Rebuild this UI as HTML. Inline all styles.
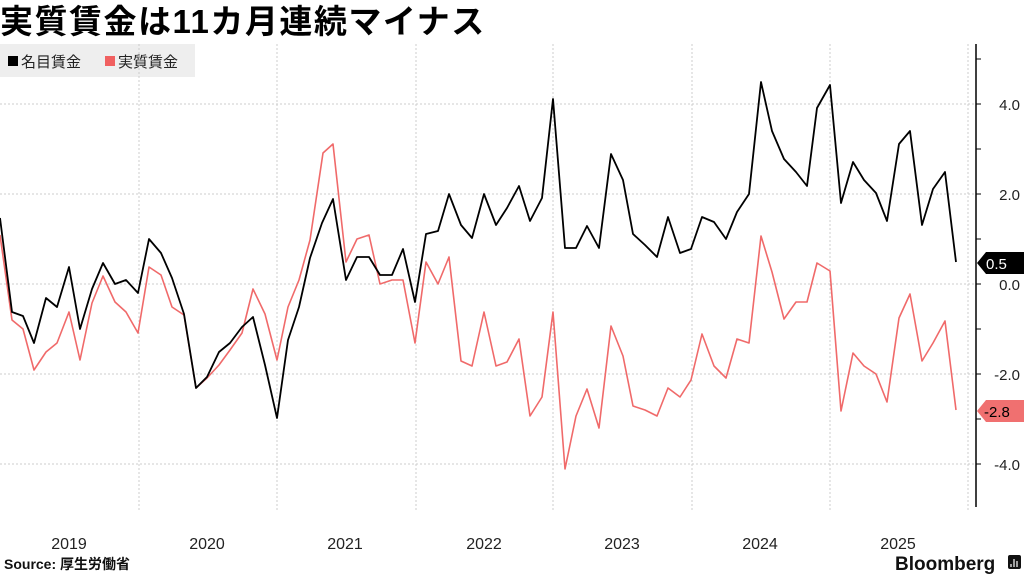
<!DOCTYPE html>
<html><head><meta charset="utf-8"><style>
body{margin:0;background:#fff;width:1024px;height:576px;overflow:hidden}
svg{display:block}
</style></head><body>
<svg width="1024" height="576" xmlns="http://www.w3.org/2000/svg" font-family="'Liberation Sans','Noto Sans CJK JP',sans-serif">
<text x="0" y="33" font-size="33" font-weight="bold" letter-spacing="1.5" fill="#000">実質賃金は11カ月連続マイナス</text>
<rect x="0" y="44" width="195" height="33" fill="#eee"/>
<rect x="8" y="56" width="10" height="10" fill="#000"/>
<text x="21" y="67" font-size="15" fill="#222">名目賃金</text>
<rect x="105" y="56" width="10" height="10" fill="#f06060"/>
<text x="118" y="67" font-size="15" fill="#222">実質賃金</text>
<g stroke="#ccc" stroke-width="1" stroke-dasharray="2,2">
<line x1="0" y1="104" x2="975" y2="104"/><line x1="0" y1="194" x2="975" y2="194"/><line x1="0" y1="284" x2="975" y2="284"/><line x1="0" y1="374" x2="975" y2="374"/><line x1="0" y1="464" x2="975" y2="464"/>
<line x1="139" y1="44" x2="139" y2="510"/><line x1="277" y1="44" x2="277" y2="510"/><line x1="416" y1="44" x2="416" y2="510"/><line x1="553" y1="44" x2="553" y2="510"/><line x1="692" y1="44" x2="692" y2="510"/><line x1="830" y1="44" x2="830" y2="510"/><line x1="968" y1="44" x2="968" y2="510"/>
</g>
<line x1="976" y1="44" x2="976" y2="507" stroke="#000" stroke-width="1.5"/>
<g stroke="#000" stroke-width="1">
<line x1="976" y1="59" x2="981" y2="59"/><line x1="976" y1="104" x2="981" y2="104"/><line x1="976" y1="149" x2="981" y2="149"/><line x1="976" y1="194" x2="981" y2="194"/><line x1="976" y1="239" x2="981" y2="239"/><line x1="976" y1="284" x2="981" y2="284"/><line x1="976" y1="329" x2="981" y2="329"/><line x1="976" y1="374" x2="981" y2="374"/><line x1="976" y1="419" x2="981" y2="419"/><line x1="976" y1="464" x2="981" y2="464"/>
</g>
<g font-size="15" fill="#222" text-anchor="end">
<text x="1020" y="110">4.0</text><text x="1020" y="200">2.0</text><text x="1020" y="290">0.0</text><text x="1020" y="380">-2.0</text><text x="1020" y="470">-4.0</text>
</g>
<polyline fill="none" stroke="#f06a6a" stroke-width="1.6" stroke-linejoin="round" points="0,235 12,320 23,329 34,370 46,352 57,343 69,312 80,360 92,303 103,276 115,302 126,312 138,333 149,267 161,275 172,307 184,315 196,388 207,378 219,365 230,350 242,333 253,289 265,314 277,360 288,307 299,280 310,240 323,153 333,144 346,262 357,239 369,235 380,284 392,280 403,280 415,343 426,262 438,284 449,257 461,361 472,366 484,312 496,366 507,362 519,339 530,416 542,397 553,312 565,469 576,416 587,389 599,428 611,326 623,356 633,406 645,410 657,416 668,388 680,397 691,380 702,334 714,366 726,378 737,339 749,343 761,236 772,272 784,319 796,302 807,302 817,263 830,271 841,411 853,353 864,366 876,374 887,402 899,318 910,294 922,361 933,343 945,321 956,410"/>
<polyline fill="none" stroke="#000" stroke-width="1.8" stroke-linejoin="round" points="0,218 12,312 23,316 34,343 46,298 57,307 69,267 80,329 92,289 103,263 115,284 126,280 138,293 149,239 161,253 172,278 184,314 196,388 207,377 219,352 230,343 242,327 253,317 265,365 277,418 288,340 299,307 310,258 322,223 333,199 346,280 357,257 369,257 380,275 392,275 403,249 415,302 426,234 438,231 449,194 461,225 472,238 484,194 496,225 507,208 519,186 530,221 542,198 553,99 565,248 576,248 587,226 599,248 611,154 623,180 633,234 645,245 657,257 668,217 680,253 691,249 702,217 714,222 726,239 737,212 749,194 761,82 772,131 784,159 796,172 807,186 817,108 830,85 841,203 853,162 864,180 876,193 887,221 899,144 910,131 922,225 933,189 945,172 956,262"/>
<polygon points="977,263 986,252 1024,252 1024,274 986,274" fill="#000"/>
<text x="986" y="269" font-size="15" fill="#fff">0.5</text>
<polygon points="977,411 986,400 1024,400 1024,422 986,422" fill="#f07070"/>
<text x="984" y="417" font-size="15" fill="#000">-2.8</text>
<g font-size="16" fill="#222" text-anchor="middle">
<text x="69" y="549">2019</text><text x="207" y="549">2020</text><text x="345" y="549">2021</text><text x="484" y="549">2022</text><text x="622" y="549">2023</text><text x="760" y="549">2024</text><text x="898" y="549">2025</text>
</g>
<text x="4" y="569" font-size="14" font-weight="bold" fill="#111">Source: 厚生労働省</text>
<text x="895" y="570" font-size="19" font-weight="bold" fill="#111">Bloomberg</text>
<rect x="1008" y="555" width="13" height="14" rx="2" fill="#111"/>
<g stroke="#fff" stroke-width="1.2"><line x1="1011" y1="564" x2="1011" y2="567"/><line x1="1014" y1="559" x2="1014" y2="567"/><line x1="1017" y1="561" x2="1017" y2="567"/></g>
</svg>
</body></html>
